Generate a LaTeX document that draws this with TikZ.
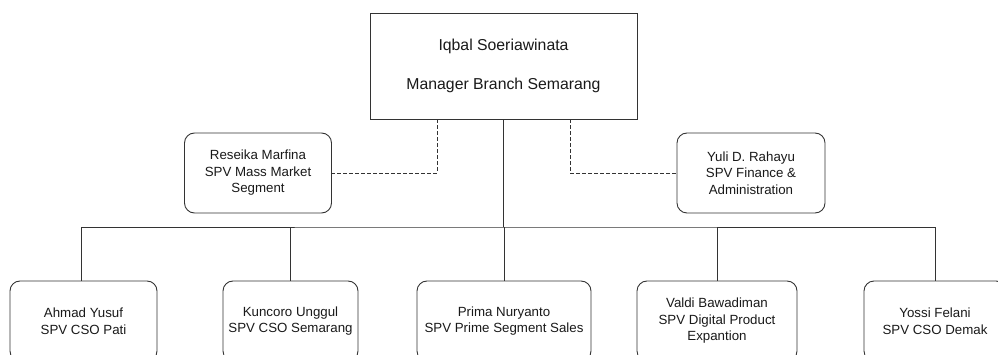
\documentclass[tikz,border=0pt]{standalone}
\usepackage{fontspec}
\setmainfont{Liberation Sans}
\usetikzlibrary{positioning,calc,arrows.meta}

\begin{document}
\begin{tikzpicture}[x=1pt, y=-1pt,
    staff/.style={draw=black!80, line width=0.9pt, rounded corners=10pt, align=center,
        minimum height=80pt, inner sep=0pt, text=black!90, font=\fontsize{13.3}{16.5}\selectfont},
    link/.style={draw=black!80, line width=0.9pt},
    dotlink/.style={link, dash pattern=on 3.5pt off 2.5pt}]
    \useasboundingbox (0,0) rectangle (998,355);

    % Branch manager
    \node [draw=black!80, line width=0.9pt, minimum width=267pt, minimum height=106pt, align=center,
        text=black!90, font=\fontsize{15.8}{19}\selectfont] (mgr) at (503.5,66)
        {Iqbal Soeriawinata\\[20pt]Manager Branch Semarang};
    \coordinate (bar) at (503.5,227);

    % Staff supervisors (dotted line)
    \node [staff, minimum width=147pt] (reseika) at (258,173) {Reseika Marfina\\SPV Mass Market\\Segment};
    \node [staff, minimum width=148pt] (yuli) at (751,173) {Yuli D. Rahayu\\SPV Finance \&\\Administration};
    \draw [dotlink] ([xshift=-66.5pt]mgr.south) |- (reseika.east);
    \draw [dotlink] ([xshift=66.5pt]mgr.south) |- (yuli.west);

    % Line supervisors
    \node [staff, minimum width=147pt] (ahmad) at (83.5,321) {Ahmad Yusuf\\SPV CSO Pati};
    \node [staff, minimum width=135pt] (kuncoro) at (290.5,321) {Kuncoro Unggul\\SPV CSO Semarang};
    \node [staff, minimum width=174pt] (prima) at (504,321) {Prima Nuryanto\\SPV Prime Segment Sales};
    \node [staff, minimum width=160pt] (valdi) at (717,321) {Valdi Bawadiman\\SPV Digital Product\\Expantion};
    \node [staff, minimum width=142pt] (yossi) at (935,321) {Yossi Felani\\SPV CSO Demak};

    % Reporting lines
    \draw [link] (mgr.south) -- (bar);
    \draw [link] ([xshift=-2.5pt]ahmad.north) |- (bar) -| (yossi.north);
    \foreach \n in {kuncoro, prima, valdi}
        \draw [link] (\n.north) -- (\n.north |- bar);
\end{tikzpicture}
\end{document}
